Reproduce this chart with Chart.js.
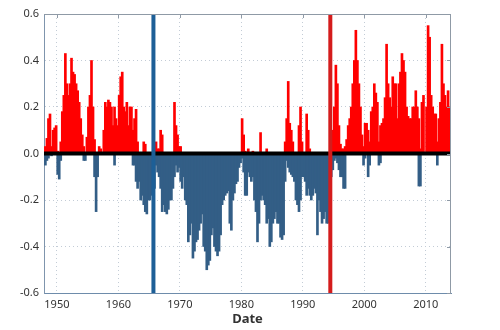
<!DOCTYPE html>
<html>
<head>
<meta charset="utf-8">
<script src="https://cdn.jsdelivr.net/npm/chart.js@4"></script>
<style>
  html, body { margin: 0; padding: 0; background: #fff; }
  #wrap { width: 500px; height: 330px; }
</style>
</head>
<body>
<div id="wrap"><canvas id="chart"></canvas></div>
<script>
// quarterly values, first quarter = 1948 Q1
const startYear = 1948;
const posVals = [
  0.03, 0.065, 0.15, 0.17,   // 1948
  0.03, 0.10, 0.11, 0.12,    // 1949
  0.01, 0.0, 0.05, 0.18,     // 1950
  0.25, 0.43, 0.30, 0.25,    // 1951
  0.30, 0.41, 0.35, 0.34,    // 1952
  0.30, 0.27, 0.22, 0.15,    // 1953
  0.08, 0.03, 0.0, 0.07,     // 1954
  0.20, 0.25, 0.40, 0.20,    // 1955
  0.06, 0.0, 0.0, 0.03,      // 1956
  0.02, 0.0, 0.10, 0.22,     // 1957
  0.20, 0.23, 0.22, 0.20,    // 1958
  0.12, 0.20, 0.15, 0.12,    // 1959
  0.25, 0.33, 0.35, 0.20,    // 1960
  0.18, 0.22, 0.12, 0.20,    // 1961
  0.20, 0.10, 0.15, 0.19,    // 1962
  0.05, 0, 0, 0,             // 1963
  0.05, 0.04, 0, 0,          // 1964
  0, 0, 0, 0,                // 1965
  0.05, 0.02, 0.02, 0.10,    // 1966
  0.08, 0, 0, 0,             // 1967
  0, 0, 0, 0,                // 1968
  0.22, 0.12, 0.08, 0.03,    // 1969
  0.03, 0, 0, 0,             // 1970
  0, 0, 0, 0,                // 1971
  0, 0, 0, 0,                // 1972
  0, 0, 0, 0,                // 1973
  0, 0, 0, 0,                // 1974
  0, 0, 0, 0,                // 1975
  0, 0, 0, 0,                // 1976
  0, 0, 0, 0,                // 1977
  0, 0, 0, 0,                // 1978
  0, 0, 0, 0,                // 1979
  0.15, 0.08, 0.01, 0,       // 1980
  0.02, 0, 0, 0.01,          // 1981
  0, 0, 0, 0,                // 1982
  0.09, 0, 0, 0,             // 1983
  0.02, 0, 0, 0,             // 1984
  0, 0, 0, 0,                // 1985
  0, 0, 0, 0,                // 1986
  0.05, 0.15, 0.31, 0.13,    // 1987
  0.10, 0.05, 0, 0,          // 1988
  0, 0.12, 0.20, 0.05,       // 1989
  0, 0, 0.17, 0.10,          // 1990
  0.02, 0, 0, 0,             // 1991
  0, 0, 0, 0,                // 1992
  0, 0, 0, 0,                // 1993
  0, 0, 0, 0.10,             // 1994
  0.20, 0.38, 0.30, 0.12,    // 1995
  0.04, 0.02, 0.02, 0.03,    // 1996
  0.06, 0.12, 0.15, 0.20,    // 1997
  0.30, 0.40, 0.53, 0.40,    // 1998
  0.30, 0.20, 0.08, 0.03,    // 1999
  0.13, 0.13, 0.10, 0.05,    // 2000
  0.18, 0.20, 0.30, 0.26,    // 2001
  0.22, 0.05, 0.12, 0.13,    // 2002
  0.15, 0.24, 0.47, 0.30,    // 2003
  0.24, 0.20, 0.33, 0.30,    // 2004
  0.30, 0.15, 0.30, 0.35,    // 2005
  0.43, 0.40, 0.35, 0.20,    // 2006
  0.16, 0.15, 0.15, 0.20,    // 2007
  0.20, 0.27, 0.20, 0.15,    // 2008
  0.02, 0.22, 0.25, 0.0,     // 2009
  0.20, 0.55, 0.50, 0.25,    // 2010
  0.20, 0.17, 0.17, 0.05,    // 2011
  0.15, 0.22, 0.47, 0.30,    // 2012
  0.25, 0.20, 0.27, 0.20     // 2013
];
const negVals = [
  -0.05, -0.03, -0.02, 0,    // 1948
  -0.01, 0, 0, 0,            // 1949
  -0.09, -0.11, -0.03, 0,    // 1950
  0, 0, 0, 0,                // 1951
  0, 0, 0, 0,                // 1952
  0, 0, 0, 0,                // 1953
  0, -0.03, -0.03, 0,        // 1954
  0, 0, 0, 0,                // 1955
  -0.10, -0.25, -0.10, 0,    // 1956
  0, 0, 0, 0,                // 1957
  0, 0, 0, 0,                // 1958
  0, -0.05, 0, 0,            // 1959
  0, 0, 0, 0,                // 1960
  0, 0, 0, 0,                // 1961
  0, -0.05, -0.05, -0.12,    // 1962
  -0.15, -0.12, -0.20, -0.18, // 1963
  -0.22, -0.25, -0.26, -0.20, // 1964
  -0.20, -0.18, -0.15, -0.15, // 1965
  -0.05, -0.08, -0.10, -0.15, // 1966
  -0.25, -0.22, -0.25, -0.26, // 1967
  -0.24, -0.20, -0.20, -0.15, // 1968
  -0.10, -0.05, -0.08, -0.06, // 1969
  -0.12, -0.15, -0.10, -0.20, // 1970
  -0.22, -0.38, -0.35, -0.30, // 1971
  -0.45, -0.42, -0.38, -0.37, // 1972
  -0.33, -0.30, -0.26, -0.40, // 1973
  -0.42, -0.50, -0.48, -0.46, // 1974
  -0.35, -0.32, -0.40, -0.42, // 1975
  -0.44, -0.42, -0.35, -0.22, // 1976
  -0.20, -0.18, -0.17, -0.16, // 1977
  -0.30, -0.33, -0.20, -0.17, // 1978
  -0.13, -0.12, -0.06, -0.04, // 1979
  -0.02, -0.08, -0.18, -0.18, // 1980
  -0.08, -0.10, -0.12, -0.10, // 1981
  -0.20, -0.25, -0.38, -0.30, // 1982
  -0.20, -0.18, -0.20, -0.22, // 1983
  -0.30, -0.28, -0.40, -0.38, // 1984
  -0.30, -0.28, -0.25, -0.30, // 1985
  -0.30, -0.36, -0.37, -0.35, // 1986
  -0.12, -0.03, -0.06, -0.08, // 1987
  -0.09, -0.10, -0.12, -0.20, // 1988
  -0.22, -0.25, -0.20, -0.10, // 1989
  -0.10, -0.12, -0.18, -0.15, // 1990
  -0.18, -0.20, -0.18, -0.15, // 1991
  -0.17, -0.35, -0.20, -0.25, // 1992
  -0.30, -0.28, -0.25, -0.30, // 1993
  -0.30, -0.15, -0.10, -0.07, // 1994
  -0.03, -0.02, -0.04, -0.07, // 1995
  -0.10, -0.10, -0.15, -0.15, // 1996
  0, 0, 0, 0,                // 1997
  0, 0, 0, 0,                // 1998
  0, 0, 0, -0.05,            // 1999
  -0.02, 0, -0.10, -0.05,    // 2000
  0, 0, 0, 0,                // 2001
  0, -0.05, -0.04, 0,        // 2002
  0, 0, 0, 0,                // 2003
  0, 0, 0, 0,                // 2004
  0, 0, 0, 0,                // 2005
  0, 0, 0, 0,                // 2006
  0, 0, 0, 0,                // 2007
  0, 0, 0, -0.14,            // 2008
  -0.14, 0, 0, 0,            // 2009
  0, 0, 0, 0,                // 2010
  0, 0, 0, -0.05,            // 2011
  0, 0, 0, 0,                // 2012
  0, 0, 0, 0                 // 2013
];
const tickYears = [1950, 1960, 1970, 1980, 1990, 2000, 2010];
const yTicks = [-0.6, -0.4, -0.2, 0, 0.2, 0.4, 0.6];
const xMin = 1947.9, xMax = 2014.1;
const blueLineYear = 1965.7;
const redLineYear = 1994.47;

const qx = i => startYear + i / 4 + 0.125;
const posData = posVals.map((v, i) => ({ x: qx(i), y: v }));
const negData = negVals.map((v, i) => ({ x: qx(i), y: v }));

// top/right frame plus small ticks
const framePlugin = {
  id: "frame",
  afterDraw(chart) {
    const { ctx, chartArea: a, scales } = chart;
    ctx.save();
    ctx.lineWidth = 1;
    ctx.strokeStyle = "#8f9aa6";
    ctx.beginPath();
    ctx.moveTo(a.left, a.top + 0.5);
    ctx.lineTo(a.right, a.top + 0.5);
    ctx.moveTo(a.right - 0.5, a.top);
    ctx.lineTo(a.right - 0.5, a.bottom);
    tickYears.forEach(y => {
      const px = Math.round(scales.x.getPixelForValue(y)) + 0.5;
      ctx.moveTo(px, a.top);
      ctx.lineTo(px, a.top + 4);
    });
    yTicks.forEach(v => {
      const py = Math.round(scales.y.getPixelForValue(v)) + 0.5;
      ctx.moveTo(a.right, py);
      ctx.lineTo(a.right - 4, py);
    });
    ctx.stroke();
    ctx.restore();
  }
};

new Chart(document.getElementById("chart"), {
  type: "bar",
  data: {
    datasets: [
      {
        type: "line",
        data: [{ x: xMin, y: 0 }, { x: xMax, y: 0 }],
        borderColor: "#000",
        borderWidth: 4,
        pointRadius: 0,
        order: 1
      },
      {
        type: "line",
        data: [{ x: blueLineYear, y: -0.6 }, { x: blueLineYear, y: 0.6 }],
        borderColor: "#1d5f97",
        borderWidth: 4,
        pointRadius: 0,
        order: 0
      },
      {
        type: "line",
        data: [{ x: redLineYear, y: -0.6 }, { x: redLineYear, y: 0.6 }],
        borderColor: "#d41c1c",
        borderWidth: 4,
        pointRadius: 0,
        order: 0
      },
      {
        data: posData,
        backgroundColor: "#ff0000",
        borderWidth: 0,
        barThickness: 2,
        order: 3
      },
      {
        data: negData,
        backgroundColor: "#335e86",
        borderWidth: 0,
        barThickness: 2,
        order: 3
      }
    ]
  },
  options: {
    responsive: true,
    maintainAspectRatio: false,
    animation: false,
    grouped: false,
    layout: { padding: { left: 0, right: 49, top: 14, bottom: 0 } },
    plugins: { legend: { display: false }, tooltip: { enabled: false } },
    scales: {
      x: {
        type: "linear",
        offset: false,
        min: xMin,
        max: xMax,
        afterBuildTicks: s => { s.ticks = tickYears.map(v => ({ value: v })); },
        afterFit: s => { s.height = 37; },
        grid: { color: "#c3ccd6", drawTicks: false, offset: false },
        border: { color: "#6e8cab", width: 1, dash: [1, 3] },
        ticks: {
          padding: 5,
          color: "#333",
          font: { family: "Noto Sans", size: 11 },
          callback: v => String(v)
        },
        title: {
          display: true,
          text: "Date",
          color: "#333",
          font: { family: "Noto Sans", size: 13, weight: "bold" },
          padding: { top: 0, bottom: 3 }
        }
      },
      y: {
        min: -0.6,
        max: 0.6,
        afterBuildTicks: s => { s.ticks = yTicks.map(v => ({ value: v })); },
        afterFit: s => { s.width = 44; },
        grid: { color: "#c3ccd6", drawTicks: false },
        border: { color: "#7f95ad", width: 1, dash: [1, 3] },
        ticks: {
          padding: 5,
          color: "#333",
          font: { family: "Noto Sans", size: 11 },
          callback: v => (Math.abs(v) < 1e-9 ? "0.0" : v.toFixed(1))
        }
      }
    }
  },
  plugins: [framePlugin]
});
</script>
</body>
</html>
